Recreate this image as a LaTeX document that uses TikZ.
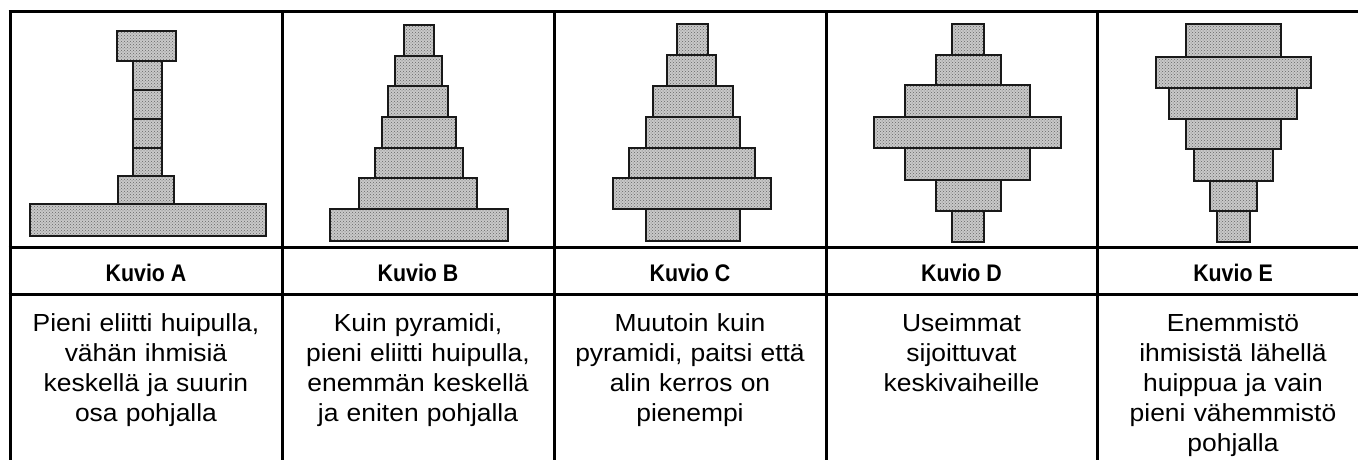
\documentclass[tikz,border=0pt]{standalone}
\usepackage{fontspec}
\setmainfont{Liberation Sans}
\newfontfamily\descfont[FakeStretch=1.07]{Liberation Sans}
\newfontfamily\headfont[FakeStretch=0.89]{Liberation Sans}
\usetikzlibrary{patterns}
\tikzset{
  tableline/.style={line width=3pt, black},
  bar/.style={draw=black!90, line width=2.5pt, preaction={fill=gray!42}, pattern=crosshatch dots, pattern color=black!60},
  head/.style={font=\headfont\bfseries\fontsize{24}{28}\selectfont, anchor=base, inner sep=0pt},
  desc/.style={font=\descfont\fontsize{24.7}{30}\selectfont, align=center, text width=268pt, anchor=base, inner sep=0pt},
}
\begin{document}
\begin{tikzpicture}[x=1pt, y=-1pt]
\useasboundingbox (0,0) rectangle (1358,460);
\clip (0,0) rectangle (1358,460);
\fill[white] (0,0) rectangle (1358,460);
% table grid
\foreach \yy in {12,247,294} \draw[tableline] (8.5,\yy) -- (1372,\yy);
\foreach \xx in {10,282,554,826,1097,1369} \draw[tableline] (\xx,12) -- (\xx,470);
% Kuvio A
\foreach \a/\b/\c/\d in {117/31/176/61, 133/61/162/90, 133/90/162/119, 133/119/162/148, 133/148/162/176, 118/176/174/204, 30/204/266/236}
  \draw[bar] (\a,\b) rectangle (\c,\d);
% Kuvio B
\foreach \a/\b/\c/\d in {404/25/434/56, 395/56/442/86, 388/86/448/117, 382/117/456/148, 375/148/463/178, 359/178/477/209, 330/209/508/241}
  \draw[bar] (\a,\b) rectangle (\c,\d);
% Kuvio C
\foreach \a/\b/\c/\d in {677/24/708/55, 667/55/716/86, 653/86/733/117, 646/117/740/148, 629/148/755/178, 613/178/771/209, 646/209/740/241}
  \draw[bar] (\a,\b) rectangle (\c,\d);
% Kuvio D
\foreach \a/\b/\c/\d in {952/24/984/55, 936/55/1001/85, 905/85/1030/117, 874/117/1061/148, 905/148/1030/180, 936/180/1001/211, 952/211/984/242}
  \draw[bar] (\a,\b) rectangle (\c,\d);
% Kuvio E
\foreach \a/\b/\c/\d in {1186/24/1281/57, 1156/57/1311/88, 1169/88/1297/119, 1186/119/1281/149, 1194/149/1273/181, 1210/181/1257/211, 1217/211/1250/242}
  \draw[bar] (\a,\b) rectangle (\c,\d);
% headings
\node[head] (hA) at (146,281) {Kuvio A};
\node[head] (hB) at (418,281) {Kuvio B};
\node[head] (hC) at (690,281) {Kuvio C};
\node[head] (hD) at (961.5,281) {Kuvio D};
\node[head] (hE) at (1233,281) {Kuvio E};
% descriptions
\node[desc] (dA) at (146,331) {Pieni eliitti huipulla,\\ vähän ihmisiä\\ keskellä ja suurin\\ osa pohjalla};
\node[desc] (dB) at (418,331) {Kuin pyramidi,\\ pieni eliitti huipulla,\\ enemmän keskellä\\ ja eniten pohjalla};
\node[desc] (dC) at (690,331) {Muutoin kuin\\ pyramidi, paitsi että\\ alin kerros on\\ pienempi};
\node[desc] (dD) at (961.5,331) {Useimmat\\ sijoittuvat\\ keskivaiheille};
\node[desc] (dE) at (1233,331) {Enemmistö\\ ihmisistä lähellä\\ huippua ja vain\\ pieni vähemmistö\\ pohjalla};
\end{tikzpicture}
\end{document}
